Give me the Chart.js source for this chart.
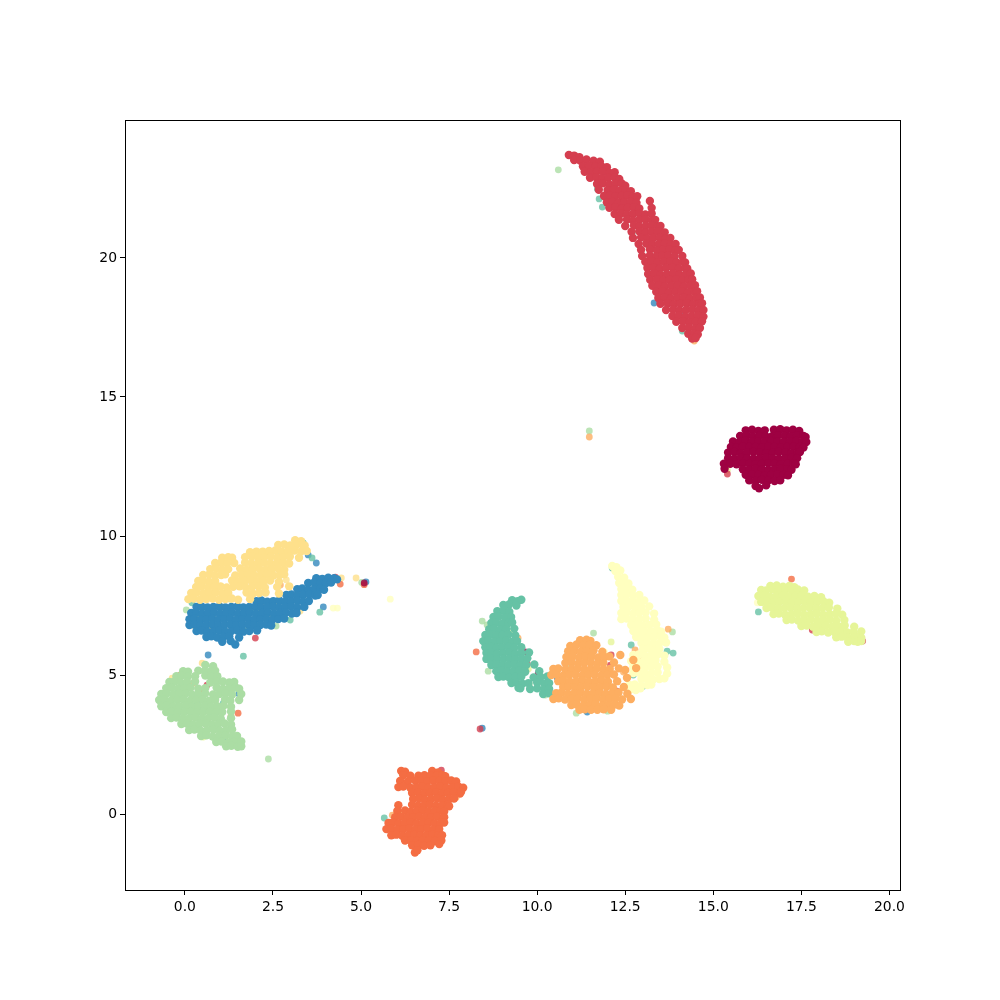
<!DOCTYPE html>
<html>
<head>
<meta charset="utf-8">
<style>
html, body { margin: 0; padding: 0; background: #fff; }
canvas { display: block; }
</style>
<script src="https://cdn.jsdelivr.net/npm/chart.js@4"></script>
</head>
<body>
<canvas id="chart" width="1000" height="1000"></canvas>
<script>
// Values, one array per digit group
const xTicks = [0, 2.5, 5, 7.5, 10, 12.5, 15, 17.5, 20];
const yTicks = [0, 5, 10, 15, 20];
const colors = ['#9e0142', '#d53e4f', '#f46d43', '#fdae61', '#fee08b', '#ffffbf', '#e6f598', '#abdda4', '#66c2a5', '#3288bd'];
const strayColors = ['rgba(158,1,66,.8)', 'rgba(213,62,79,.8)', 'rgba(244,109,67,.8)', 'rgba(253,174,97,.8)', 'rgba(254,224,139,.8)', 'rgba(255,255,191,.8)', 'rgba(230,245,152,.8)', 'rgba(171,221,164,.8)', 'rgba(102,194,165,.8)', 'rgba(50,136,189,.8)'];

const group0 = [
[15.92,13.8],[16.1,13.82],[16.28,13.78],[16.46,13.8],[16.72,13.82],[16.9,13.84],[17.08,13.8],[17.26,13.82],[17.44,13.78],
[15.76,13.6],[15.94,13.62],[16.12,13.58],[16.3,13.6],[16.48,13.6],[16.66,13.58],[16.84,13.62],[17.02,13.6],[17.2,13.58],[17.38,13.62],[17.56,13.6],[17.62,13.56],
[15.56,13.4],[15.74,13.38],[15.92,13.42],[16.1,13.4],[16.28,13.38],[16.46,13.4],[16.64,13.42],[16.82,13.4],[17,13.38],[17.18,13.4],[17.36,13.42],[17.54,13.4],[17.64,13.38],
[15.5,13.2],[15.66,13.18],[15.84,13.22],[16.02,13.2],[16.2,13.2],[16.38,13.18],[16.56,13.22],[16.74,13.2],[16.92,13.18],[17.1,13.2],[17.28,13.22],[17.46,13.2],[17.56,13.18],
[15.42,13],[15.6,13.02],[15.78,12.98],[15.96,13],[16.14,13.02],[16.32,13],[16.5,12.98],[16.68,13],[16.86,13.02],[17.04,13],[17.22,12.98],[17.4,13],[17.46,13.02],
[15.42,12.8],[15.6,12.78],[15.78,12.82],[15.96,12.8],[16.14,12.78],[16.32,12.8],[16.5,12.82],[16.68,12.8],[16.86,12.78],[17.04,12.8],[17.22,12.82],[17.38,12.8],
[15.3,12.6],[15.48,12.6],[15.66,12.58],[15.84,12.62],[16.02,12.6],[16.2,12.58],[16.38,12.6],[16.56,12.62],[16.74,12.6],[16.92,12.58],[17.1,12.6],[17.28,12.62],[17.34,12.58],
[15.32,12.42],[15.84,12.4],[16.02,12.38],[16.2,12.42],[16.38,12.4],[16.56,12.38],[16.74,12.4],[16.92,12.42],[17.1,12.4],[17.22,12.38],
[15.92,12.2],[16.1,12.22],[16.28,12.2],[16.46,12.18],[16.64,12.2],[16.82,12.22],[17,12.2],[17.12,12.18],
[16.02,12],[16.2,11.98],[16.38,12.02],[16.56,12],[16.74,11.98],[16.9,12],
[16.2,11.8],[16.3,11.72],[16.5,11.82]
];
const group1 = [
[10.9,23.7],[11.05,23.68],[11.2,23.62],
[11.05,23.52],[11.22,23.5],[11.4,23.54],[11.6,23.5],[11.78,23.46],
[11.3,23.3],[11.47,23.32],[11.65,23.28],[11.82,23.3],[11.98,23.26],
[11.35,23.1],[11.52,23.08],[11.7,23.12],[11.87,23.1],[12.05,23.06],[12.2,23.08],
[11.5,22.88],[11.68,22.9],[11.85,22.86],[12.02,22.88],[12.2,22.9],[12.33,22.84],
[11.7,22.66],[11.87,22.68],[12.05,22.64],[12.22,22.66],[12.4,22.68],[12.5,22.6],
[11.75,22.45],[12,22.44],[12.18,22.46],[12.34,22.42],[12.5,22.45],[12.66,22.4],
[11.9,22.23],[12.06,22.25],[12.22,22.21],[12.4,22.23],[12.56,22.25],[12.72,22.2],[12.84,22.22],
[11.98,22],[12.14,22.02],[12.3,21.98],[12.47,22],[12.65,22.02],[12.82,21.98],[13.2,22.05],
[12.05,21.8],[12.22,21.82],[12.4,21.78],[12.57,21.8],[12.75,21.82],[12.9,21.78],[13.25,21.8],
[12.2,21.58],[12.38,21.6],[12.55,21.56],[12.72,21.58],[12.9,21.6],[13.07,21.56],[13.25,21.6],
[12.32,21.37],[12.55,21.38],[12.72,21.35],[12.9,21.37],[13.07,21.39],[13.25,21.35],[13.35,21.37],
[12.5,21.15],[12.75,21.17],[12.9,21.13],[13.08,21.15],[13.25,21.17],[13.42,21.13],[13.5,21.15],
[12.68,20.94],[12.9,20.96],[13.08,20.92],[13.25,20.94],[13.42,20.96],[13.62,20.92],
[12.72,20.72],[12.95,20.74],[13.13,20.7],[13.3,20.72],[13.48,20.74],[13.65,20.7],[13.78,20.72],
[12.88,20.5],[13.1,20.52],[13.27,20.48],[13.45,20.5],[13.62,20.52],[13.8,20.48],[13.93,20.5],
[12.95,20.29],[13.2,20.31],[13.4,20.27],[13.58,20.29],[13.75,20.31],[13.92,20.27],[14.02,20.29],
[12.98,20.07],[13.2,20.09],[13.38,20.05],[13.55,20.07],[13.72,20.09],[13.9,20.05],[14.12,20.07],
[13.07,19.86],[13.25,19.88],[13.42,19.84],[13.6,19.86],[13.78,19.88],[13.96,19.84],[14.14,19.86],[14.2,19.84],
[13.13,19.64],[13.3,19.66],[13.48,19.62],[13.66,19.64],[13.84,19.66],[14.02,19.62],[14.2,19.64],[14.26,19.62],
[13.15,19.42],[13.33,19.44],[13.5,19.4],[13.68,19.42],[13.86,19.44],[14.04,19.4],[14.22,19.42],[14.36,19.44],
[13.21,19.21],[13.4,19.23],[13.58,19.19],[13.76,19.21],[13.94,19.23],[14.12,19.19],[14.3,19.21],[14.4,19.23],
[13.27,19],[13.45,19.02],[13.63,18.98],[13.81,19],[13.99,19.02],[14.17,18.98],[14.35,19],[14.48,19.02],
[13.38,18.78],[13.56,18.8],[13.74,18.76],[13.92,18.78],[14.1,18.8],[14.28,18.76],[14.46,18.78],[14.54,18.8],
[13.44,18.56],[13.62,18.58],[13.8,18.54],[13.98,18.56],[14.16,18.58],[14.34,18.54],[14.52,18.56],[14.62,18.58],
[13.5,18.35],[13.7,18.37],[13.88,18.33],[14.06,18.35],[14.24,18.37],[14.42,18.33],[14.6,18.35],[14.68,18.37],
[13.66,18.13],[13.86,18.15],[14.04,18.11],[14.22,18.13],[14.4,18.15],[14.58,18.11],[14.72,18.13],
[13.84,17.91],[14.02,17.93],[14.2,17.89],[14.38,17.91],[14.56,17.93],[14.72,17.89],
[13.95,17.7],[14.14,17.72],[14.32,17.68],[14.5,17.7],[14.68,17.72],
[14.12,17.48],[14.3,17.5],[14.48,17.46],[14.62,17.48],
[14.29,17.27],[14.46,17.29],[14.56,17.25],
[14.4,17.1],[14.5,17.12]
];
const group2 = [
[6.14,1.55],[6.25,1.52],[7.02,1.55],[7.19,1.5],
[6.2,1.4],[6.4,1.38],[6.63,1.38],[6.8,1.4],[6.97,1.38],[7.14,1.38],[7.31,1.4],[7.39,1.36],
[6.11,1.19],[6.33,1.17],[6.54,1.21],[6.71,1.19],[6.88,1.17],[7.05,1.21],[7.22,1.19],[7.39,1.17],[7.56,1.21],[7.7,1.17],
[6.06,.97],[6.2,.99],[6.4,.95],[6.57,.97],[6.74,.99],[6.91,.95],[7.08,.97],[7.25,.99],[7.42,.95],[7.59,.97],[7.76,.99],[7.9,.95],
[6.45,.76],[6.62,.78],[6.79,.74],[6.96,.76],[7.13,.78],[7.3,.74],[7.47,.76],[7.64,.78],[7.81,.74],[7.84,.8],
[6.48,.54],[6.65,.56],[6.82,.52],[6.99,.54],[7.16,.56],[7.33,.52],[7.5,.54],[7.64,.56],
[6.06,.32],[6.45,.34],[6.62,.3],[6.79,.32],[6.96,.34],[7.13,.3],[7.3,.32],[7.47,.34],[7.5,.28],
[6.03,.11],[6.25,.13],[6.42,.09],[6.59,.11],[6.76,.13],[6.93,.09],[7.1,.11],[7.27,.13],[7.36,.09],
[5.97,-.11],[6.14,-.09],[6.31,-.13],[6.48,-.11],[6.65,-.09],[6.82,-.13],[6.99,-.11],[7.16,-.09],[7.33,-.13],[7.36,-.11],
[5.78,-.32],[5.9,-.3],[6.07,-.34],[6.24,-.32],[6.41,-.3],[6.58,-.34],[6.75,-.32],[6.92,-.3],[7.09,-.34],[7.26,-.32],[7.36,-.3],
[5.72,-.54],[5.86,-.52],[6.03,-.56],[6.2,-.54],[6.37,-.52],[6.54,-.56],[6.71,-.54],[6.88,-.52],[7.05,-.56],[7.22,-.54],
[5.86,-.76],[6,-.74],[6.17,-.78],[6.34,-.76],[6.51,-.74],[6.68,-.78],[6.85,-.76],[7.02,-.74],[7.19,-.78],[7.3,-.76],
[6.25,-.95],[6.42,-.95],[6.59,-.97],[6.76,-.95],[6.93,-.95],[7.1,-.97],[7.28,-.95],
[6.45,-1.12],[6.62,-1.1],[6.79,-1.14],[6.97,-1.12],[7.22,-1.08],
[6.53,-1.38],[6.6,-1.3]
];
const group3 = [
[11.22,6.25],[11.4,6.27],[11.51,6.23],
[10.94,6.05],[11.12,6.1],[11.3,6.06],[11.48,6.08],[11.68,6.07],
[10.88,5.86],[11.06,5.88],[11.24,5.84],[11.42,5.86],[11.6,5.88],[11.85,5.84],
[10.83,5.65],[11.01,5.67],[11.19,5.63],[11.37,5.65],[11.55,5.67],[11.73,5.63],[11.91,5.65],[12.05,5.67],
[10.8,5.43],[10.98,5.45],[11.16,5.41],[11.34,5.43],[11.52,5.45],[11.7,5.41],[11.88,5.43],[12.18,5.45],
[10.46,5.22],[10.6,5.24],[10.8,5.2],[10.98,5.22],[11.16,5.24],[11.34,5.2],[11.52,5.22],[11.7,5.24],[11.88,5.2],[12.06,5.22],[12.32,5.24],
[10.4,5],[10.55,5.02],[10.73,4.98],[10.91,5],[11.09,5.02],[11.27,4.98],[11.45,5],[11.63,5.02],[11.81,4.98],[11.99,5],[12.18,5.02],
[10.6,4.78],[10.75,4.8],[10.93,4.76],[11.11,4.78],[11.29,4.8],[11.47,4.76],[11.65,4.78],[11.83,4.8],[12.01,4.76],[12.27,4.78],
[10.74,4.57],[10.89,4.59],[11.07,4.55],[11.25,4.57],[11.43,4.59],[11.61,4.55],[11.79,4.57],[11.97,4.59],[12.15,4.55],[12.46,4.57],
[10.54,4.35],[10.69,4.37],[10.87,4.33],[11.05,4.35],[11.23,4.37],[11.41,4.33],[11.59,4.35],[11.77,4.37],[11.95,4.33],[12.13,4.35],[12.31,4.37],[12.56,4.33],
[10.46,4.14],[10.61,4.16],[10.79,4.12],[10.97,4.14],[11.15,4.16],[11.33,4.12],[11.51,4.14],[11.69,4.16],[11.87,4.12],[12.05,4.14],[12.23,4.16],[12.41,4.12],[12.66,4.14],
[10.97,3.92],[11.12,3.94],[11.3,3.9],[11.48,3.92],[11.66,3.94],[11.84,3.9],[12.02,3.92],[12.2,3.94],[12.33,3.9],
[11.2,3.75],[11.35,3.77],[11.53,3.75],[11.71,3.75],[11.89,3.77],[12.1,3.75],
[12.36,5.72],[12.73,5.54],[12.5,5.18],[12.81,5.25],[12.55,4.9]
];
const group4 = [
[3.13,9.85],[3.3,9.81],
[2.65,9.68],[2.82,9.7],[2.99,9.66],[3.16,9.68],[3.33,9.7],[3.4,9.66],
[1.85,9.42],[2.03,9.44],[2.21,9.44],[2.39,9.46],[2.57,9.48],[2.75,9.44],[2.93,9.46],[3.11,9.48],[3.29,9.44],[3.46,9.46],
[1.06,9.22],[1.23,9.24],[1.34,9.22],[1.71,9.24],[1.9,9.26],[2.08,9.22],[2.26,9.24],[2.44,9.26],[2.62,9.22],[2.8,9.24],[2.98,9.26],[3.24,9.22],
[.86,9.03],[1.03,9.05],[1.2,9.01],[1.4,9.03],[1.71,9.05],[1.89,9.01],[2.07,9.03],[2.25,9.05],[2.43,9.01],[2.61,9.03],[2.79,9.05],[2.96,9.01],
[.72,8.81],[.89,8.83],[1.06,8.79],[1.23,8.81],[1.57,8.83],[1.75,8.79],[1.93,8.81],[2.11,8.83],[2.29,8.79],[2.47,8.81],[2.65,8.83],[2.82,8.79],
[.52,8.6],[.69,8.62],[.86,8.58],[1.03,8.6],[1.14,8.62],[1.43,8.58],[1.61,8.6],[1.79,8.62],[1.97,8.58],[2.15,8.6],[2.33,8.62],[2.51,8.58],[2.69,8.6],[2.82,8.62],
[.38,8.38],[.52,8.4],[.69,8.36],[.86,8.38],[1.34,8.4],[1.52,8.36],[1.7,8.38],[1.88,8.4],[2.06,8.36],[2.24,8.38],[2.42,8.4],[2.67,8.36],
[.32,8.17],[.47,8.19],[.65,8.15],[.83,8.17],[1.01,8.19],[1.19,8.15],[1.37,8.17],[1.55,8.19],[1.73,8.15],[1.91,8.17],[2.09,8.19],[2.27,8.15],[2.62,8.17],[2.96,8.19],
[.18,7.95],[.33,7.97],[.51,7.93],[.69,7.95],[.87,7.97],[1.05,7.93],[1.23,7.95],[1.75,7.97],[1.93,7.93],[2.11,7.95],[2.29,7.97],[2.67,7.93],
[.1,7.73],[.25,7.75],[.43,7.71],[.61,7.73],[.79,7.75],[.97,7.71],[1.15,7.73],[1.33,7.75],[1.51,7.71],[1.85,7.73]
];
const group5 = [
[12.13,8.92],[12.25,8.88],[12.22,8.74],[12.36,8.76],[12.3,8.53],[12.47,8.5],
[12.33,8.31],[12.46,8.33],[12.59,8.29],[12.39,8.09],[12.54,8.11],[12.7,8.07],
[12.39,7.88],[12.54,7.9],[12.72,7.86],[12.9,7.88],
[12.39,7.66],[12.54,7.68],[12.72,7.64],[12.9,7.66],[13.04,7.68],
[12.45,7.45],[12.6,7.47],[12.78,7.43],[12.96,7.45],[13.18,7.47],
[12.39,7.23],[12.54,7.25],[12.72,7.21],[12.9,7.23],[13.08,7.25],[13.32,7.21],
[12.39,7.01],[12.54,7.03],[12.72,6.99],[12.9,7.01],[13.08,7.03],[13.32,6.99],
[12.67,6.8],[12.82,6.82],[13,6.78],[13.18,6.8],[13.38,6.82],
[12.73,6.58],[12.88,6.6],[13.06,6.56],[13.24,6.58],[13.42,6.6],[13.52,6.56],
[12.81,6.37],[12.96,6.39],[13.14,6.35],[13.32,6.37],[13.5,6.39],[13.61,6.35],
[12.96,6.15],[13.11,6.17],[13.29,6.13],[13.47,6.15],[13.66,6.17],
[13.01,5.94],[13.16,5.96],[13.34,5.92],[13.47,5.94],
[12.73,5.72],[12.88,5.74],[13.06,5.7],[13.24,5.72],[13.42,5.74],[13.61,5.7],
[12.67,5.5],[12.82,5.52],[13,5.48],[13.18,5.5],[13.36,5.52],[13.61,5.48],
[12.73,5.29],[12.88,5.31],[13.06,5.27],[13.24,5.29],[13.42,5.31],[13.69,5.27],
[12.73,5.07],[12.88,5.09],[13.06,5.05],[13.24,5.07],[13.42,5.09],[13.69,5.05],
[12.96,4.86],[13.11,4.88],[13.29,4.84],[13.47,4.86],[13.61,4.88],
[12.62,4.64],[12.77,4.66],[12.95,4.62],[13.13,4.64],[13.24,4.66],
[12.67,4.5],[12.8,4.46],[12.93,4.52]
];
const group6 = [
[16.62,8.2],[16.8,8.22],[16.98,8.18],[17.16,8.2],[17.3,8.16],
[16.36,8.06],[16.5,8.04],[16.68,8.08],[16.86,8.06],[17.04,8.04],[17.22,8.06],[17.4,8.08],[17.58,8.04],
[16.28,7.84],[16.43,7.86],[16.61,7.82],[16.79,7.84],[16.97,7.86],[17.15,7.82],[17.33,7.84],[17.51,7.86],[17.69,7.82],[17.87,7.84],[18.06,7.8],
[16.36,7.63],[16.51,7.65],[16.69,7.61],[16.87,7.63],[17.05,7.65],[17.23,7.61],[17.41,7.63],[17.59,7.65],[17.77,7.61],[17.95,7.63],[18.13,7.65],[18.29,7.6],
[16.51,7.41],[16.66,7.43],[16.84,7.39],[17.02,7.41],[17.2,7.43],[17.38,7.39],[17.56,7.41],[17.74,7.43],[17.92,7.39],[18.1,7.41],[18.28,7.43],[18.52,7.39],
[16.71,7.19],[16.86,7.21],[17.04,7.17],[17.22,7.19],[17.4,7.21],[17.58,7.17],[17.76,7.19],[17.94,7.21],[18.12,7.17],[18.3,7.19],[18.48,7.21],[18.66,7.17],
[17.08,6.98],[17.23,7],[17.41,6.96],[17.59,6.98],[17.77,7],[17.95,6.96],[18.13,6.98],[18.31,7],[18.49,6.96],[18.72,6.98],
[17.5,6.76],[17.65,6.78],[17.83,6.74],[18.01,6.76],[18.19,6.78],[18.37,6.74],[18.55,6.76],[18.73,6.78],[19,6.74],
[17.93,6.55],[18.08,6.57],[18.26,6.53],[18.44,6.55],[18.62,6.57],[18.8,6.53],[18.98,6.55],[19.2,6.57],
[18.49,6.36],[18.64,6.38],[18.82,6.34],[19,6.36],[19.12,6.38],[19.2,6.34],
[18.83,6.2],[19,6.22],[19.1,6.2],[19.2,6.22]
];
const group7 = [
[.58,5.36],[.8,5.32],
[-.05,5.14],[.09,5.12],[.38,5.16],[.56,5.14],[.72,5.12],[.86,5.16],
[-.24,4.96],[-.1,4.98],[.08,4.94],[.29,4.96],[.58,4.98],[.75,4.94],[.92,4.96],
[-.44,4.75],[-.3,4.77],[-.12,4.73],[.06,4.75],[.29,4.77],[.72,4.73],[.9,4.75],[1.08,4.77],[1.26,4.73],[1.4,4.75],
[-.53,4.53],[-.38,4.55],[-.2,4.51],[-.02,4.53],[.16,4.55],[.38,4.51],[.58,4.53],[.9,4.55],[1.08,4.51],[1.26,4.53],[1.44,4.55],[1.54,4.51],
[-.67,4.32],[-.52,4.34],[-.34,4.3],[-.16,4.32],[.02,4.34],[.2,4.3],[.38,4.32],[.58,4.34],[.8,4.3],[.98,4.32],[1.16,4.34],[1.34,4.3],[1.6,4.32],
[-.73,4.1],[-.58,4.12],[-.4,4.08],[-.22,4.1],[-.04,4.12],[.14,4.08],[.32,4.1],[.5,4.12],[.68,4.08],[.86,4.1],[1.14,4.12],[1.29,4.08],[1.54,4.1],
[-.67,3.88],[-.52,3.9],[-.34,3.86],[-.16,3.88],[.02,3.9],[.2,3.86],[.38,3.88],[.56,3.9],[.74,3.86],[.92,3.88],[1.1,3.9],[1.31,3.86],
[-.53,3.67],[-.38,3.69],[-.2,3.65],[-.02,3.67],[.16,3.69],[.34,3.65],[.52,3.67],[.7,3.69],[.88,3.65],[1.06,3.67],[1.31,3.69],
[-.39,3.45],[-.24,3.47],[-.06,3.43],[.12,3.45],[.3,3.47],[.48,3.43],[.66,3.45],[.84,3.47],[1.02,3.43],[1.31,3.45],
[-.1,3.24],[.05,3.26],[.23,3.22],[.41,3.24],[.59,3.26],[.77,3.22],[.95,3.24],[1.13,3.26],[1.31,3.22],
[.12,3.02],[.27,3.04],[.45,3],[.63,3.02],[.81,3.04],[.99,3],[1.17,3.02],[1.34,3.04],
[.46,2.81],[.61,2.83],[.79,2.79],[.97,2.81],[1.15,2.83],[1.33,2.79],[1.48,2.81],
[.89,2.59],[1.04,2.61],[1.22,2.57],[1.4,2.59],[1.6,2.61],
[1.17,2.44],[1.32,2.46],[1.5,2.42],[1.6,2.44]
];
const group8 = [
[9.29,7.69],[9.45,7.66],[9.55,7.71],
[9.04,7.52],[9.2,7.54],[9.41,7.5],
[8.87,7.3],[9.05,7.32],[9.21,7.28],
[8.76,7.09],[8.9,7.11],[9.08,7.07],[9.26,7.09],
[8.7,6.87],[8.84,6.89],[9.01,6.85],[9.18,6.87],[9.29,6.89],
[8.64,6.65],[8.78,6.67],[8.95,6.63],[9.12,6.65],[9.35,6.67],
[8.53,6.44],[8.67,6.46],[8.84,6.42],[9.01,6.44],[9.18,6.46],[9.38,6.42],
[8.47,6.22],[8.61,6.24],[8.78,6.2],[8.95,6.22],[9.12,6.24],[9.29,6.2],[9.43,6.22],
[8.53,6],[8.67,6.02],[8.84,5.98],[9.01,6],[9.18,6.02],[9.35,5.98],[9.55,6],
[8.56,5.79],[8.7,5.81],[8.87,5.77],[9.04,5.79],[9.21,5.81],[9.38,5.77],[9.55,5.79],[9.77,5.81],
[8.56,5.58],[8.7,5.6],[8.87,5.56],[9.04,5.58],[9.21,5.6],[9.38,5.56],[9.55,5.58],[9.72,5.6],
[8.7,5.36],[8.84,5.38],[9.01,5.34],[9.18,5.36],[9.35,5.38],[9.52,5.34],[9.69,5.36],[9.92,5.38],
[8.84,5.14],[8.98,5.16],[9.15,5.12],[9.32,5.14],[9.49,5.16],[9.66,5.12],[10.06,5.14],
[8.9,4.93],[9.04,4.95],[9.21,4.91],[9.38,4.93],[9.55,4.95],[9.9,4.91],[10.1,4.93],[10.29,4.95],
[9.27,4.71],[9.41,4.73],[9.58,4.69],[9.75,4.71],[10,4.73],[10.2,4.69],[10.34,4.71],
[9.47,4.54],[9.52,4.52],[9.8,4.5],[10,4.52],[10.2,4.48],[10.34,4.5],
[10.17,4.32],[10.34,4.34]
];
const group9 = [
[3.73,8.48],[3.9,8.46],[4.07,8.5],[4.24,8.48],[4.32,8.44],
[3.5,8.31],[3.67,8.33],[3.84,8.29],[4.01,8.31],[4.15,8.33],
[3.19,8.09],[3.33,8.11],[3.5,8.07],[3.67,8.09],[3.84,8.11],[3.95,8.07],
[2.88,7.88],[3.02,7.9],[3.19,7.86],[3.36,7.88],[3.53,7.9],[3.7,7.86],[3.77,7.88],
[2.03,7.66],[2.17,7.68],[2.34,7.64],[2.51,7.66],[2.68,7.68],[2.85,7.64],[3.02,7.66],[3.19,7.68],[3.36,7.64],[3.52,7.66],
[.33,7.45],[.47,7.47],[.64,7.43],[.81,7.45],[.98,7.47],[1.15,7.43],[1.32,7.45],[1.49,7.47],[1.66,7.43],[1.83,7.45],[2,7.47],[2.17,7.43],[2.34,7.45],[2.51,7.47],[2.68,7.43],[2.85,7.45],[3.02,7.47],[3.19,7.43],[3.39,7.45],
[.18,7.23],[.32,7.25],[.49,7.21],[.66,7.23],[.83,7.25],[1,7.21],[1.17,7.23],[1.34,7.25],[1.51,7.21],[1.68,7.23],[1.85,7.25],[2.02,7.21],[2.19,7.23],[2.36,7.25],[2.53,7.21],[2.7,7.23],[2.87,7.25],[3.04,7.21],[3.17,7.23],
[.13,7.01],[.27,7.03],[.44,6.99],[.61,7.01],[.78,7.03],[.95,6.99],[1.12,7.01],[1.29,7.03],[1.46,6.99],[1.63,7.01],[1.8,7.03],[1.97,6.99],[2.14,7.01],[2.31,7.03],[2.48,6.99],[2.65,7.01],[2.82,7.03],
[.13,6.8],[.27,6.82],[.44,6.78],[.61,6.8],[.78,6.82],[.95,6.78],[1.12,6.8],[1.29,6.82],[1.46,6.78],[1.63,6.8],[1.8,6.82],[1.97,6.78],[2.14,6.8],[2.31,6.82],[2.45,6.78],
[.33,6.58],[.47,6.6],[.64,6.56],[.81,6.58],[.98,6.6],[1.15,6.56],[1.32,6.58],[1.49,6.6],[1.66,6.56],[1.83,6.58],[2.05,6.6],
[.61,6.37],[.75,6.39],[.92,6.35],[1.09,6.37],[1.26,6.39],[1.54,6.35],
[1.06,6.2],[1.3,6.22],[1.43,6.1]
];

// Stray points of each group, drawn on top of the blobs
const stray0 = [[9.66,5.83],[10.03,5.07],[9.29,6.19],[5.09,8.31],[16.02,12]];
const stray1 = [[8.38,3.06],[15.4,12.23],[18.61,6.65],[17.81,6.62],[9.72,5.4],[9.15,5],[12.1,5.72],[12.08,5.36],[12.27,4.42],[.63,4.64],[2,6.33],[7.28,1.58],[7.22,.65],[4.27,8.52],[19.24,6.22],[6.85,-1.06]];
const stray2 = [[8.27,5.83],[1.51,3.63],[17.22,8.45],[4.41,8.27],[-.13,5],[.49,4.35],[1.29,4.1],[9.24,5],[5.09,8.25],[16.55,13.2]];
const stray3 = [[11.48,13.56],[14.46,17.01],[13.38,18.85],[9.15,6.83],[9.21,5.94],[9.46,6.33],[10.29,4.53],[12.78,5.9],[12.87,5.61],[12.7,5.5],[12.45,5.11],[13.72,6.65],[.24,4.71],[1.31,3.53],[1.37,4.53],[5.89,-.04],[6.8,-1.04],[2.71,8.24],[17,13.4],[7.7,.6]];
const stray4 = [[4.86,8.49],[4.44,8.49],[13.3,19.28],[-.36,4.89],[.49,5.43],[.75,3.85],[6.17,0],[6.97,.76],[.35,7.09],[.8,7.12],[1.34,7.23],[2.05,6.8],[2.42,7.16],[2.59,7.48],[3.27,7.3],[.72,6.62],[.43,6.8],[3.3,7.99],[2.88,8.42],[2.3,7.5],[1.5,6.95],[.3,6.75],[1.05,7.45],[2.15,7.25]];
const stray5 = [[5.83,7.73],[4.21,7.41],[4.33,7.41],[11.91,5.83],[.86,2.77],[16.25,7.6]];
const stray6 = [[15.4,12.37],[12.1,6.19],[9.75,5.22],[9.32,6.55],[.52,2.77],[14.38,18.56],[12.27,22.88]];
const stray7 = [[10.6,23.17],[2.37,1.98],[11.48,13.78],[8.44,6.94],[8.58,6.8],[8.61,5.14],[9.78,4.68],[10.23,4.28],[11.6,6.51],[13.84,6.55],[.72,8.81],[2.65,9.32],[1.29,7.73],[.04,7.34],[11.88,4.28],[12,3.7],[11.11,3.63],[10.88,5.36],[11.03,4.64],[6.6,.83],[7.02,.11],[1.94,7.34],[2.59,6.76],[5.02,8.33],[.65,6.9],[1.75,6.6]];
const stray8 = [[1.66,5.68],[11.71,22.48],[11.76,22.12],[11.85,21.83],[12.7,20.9],[3.36,9.75],[3.61,9.21],[13.27,6.51],[13.69,5.86],[12.67,6.08],[13.01,4.6],[12.73,5],[13.86,5.79],[12.13,8.85],[16.28,7.27],[5.66,-.14],[1.09,3.99],[2.99,6.98],[.32,7.05],[14.12,17.37],[2.65,7.19],[3.83,7.26],[.2,7.6]];
const stray9 = [[8.44,3.09],[3.93,7.45],[.66,5.72],[.01,4.46],[1.54,4.32],[.35,3.92],[1.12,2.7],[11.28,3.81],[11.42,3.67],[10.57,4.89],[11.6,4.24],[14.06,17.95],[3.73,9.03],[3.5,9.32],[13.32,18.38],[5.14,8.35]];

const groups = [group0, group1, group2, group3, group4, group5, group6, group7, group8, group9];
const strays = [stray0, stray1, stray2, stray3, stray4, stray5, stray6, stray7, stray8, stray9];

function toPoints(pairs) {
    return pairs.map(p => ({ x: p[0], y: p[1] }));
}

const datasets = [];
groups.forEach((g, i) => {
    datasets.push({ data: toPoints(g), backgroundColor: colors[i], pointRadius: 4.2, borderWidth: 0 });
});
strays.forEach((s, i) => {
    datasets.push({ data: toPoints(s), backgroundColor: strayColors[i], pointRadius: 3.4, borderWidth: 0 });
});

// Box round the plot area
const frame = {
    id: 'frame',
    afterDraw(chart) {
        const a = chart.chartArea;
        const ctx = chart.ctx;
        ctx.save();
        ctx.strokeStyle = '#000';
        ctx.lineWidth = 1;
        ctx.strokeRect(a.left + 0.5, a.top + 0.5, a.right - a.left, a.bottom - a.top);
        ctx.restore();
    }
};

const axisFont = { family: "'DejaVu Sans'", size: 13.9 };

new Chart(document.getElementById('chart'), {
    type: 'scatter',
    data: { datasets },
    plugins: [frame],
    options: {
        responsive: false,
        animation: false,
        events: [],
        layout: { padding: { top: 120, right: 100, bottom: 80, left: 0 } },
        plugins: { legend: { display: false }, tooltip: { enabled: false } },
        scales: {
            x: {
                type: 'linear',
                min: -1.7,
                max: 20.3,
                afterBuildTicks(scale) { scale.ticks = xTicks.map(v => ({ value: v })); },
                afterFit(scale) { scale.height = 30; },
                ticks: { color: '#000', font: axisFont, padding: 4, autoSkip: false, maxRotation: 0, callback: v => v.toFixed(1) },
                grid: { drawOnChartArea: false, drawTicks: true, tickLength: 5, color: '#000' },
                border: { display: false }
            },
            y: {
                type: 'linear',
                min: -2.73,
                max: 24.96,
                afterBuildTicks(scale) { scale.ticks = yTicks.map(v => ({ value: v })); },
                afterFit(scale) { scale.width = 125; },
                ticks: { color: '#000', font: axisFont, padding: 3, autoSkip: false, callback: v => String(v) },
                grid: { drawOnChartArea: false, drawTicks: true, tickLength: 5, color: '#000' },
                border: { display: false }
            }
        }
    }
});
</script>
</body>
</html>
